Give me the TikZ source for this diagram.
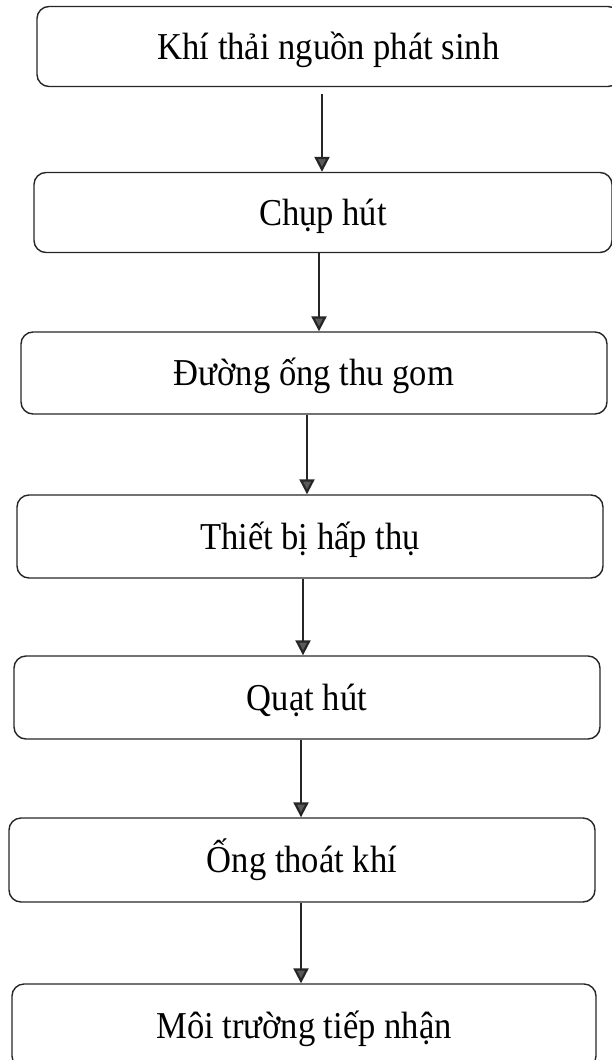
\documentclass[tikz,border=0pt]{standalone}
\usepackage{fontspec}
\setmainfont{Liberation Serif}[FakeStretch=0.91]
\usetikzlibrary{arrows.meta}
\usetikzlibrary{calc}

\tikzset{
	stage/.style = {draw = black!85, line width = 1.4pt, rounded corners = 12pt,
		inner sep = 0pt, text height = 33pt, text depth = 8pt,
		font = \fontsize{38}{45}\selectfont},
	flow/.style = {draw = black!85, line width = 2.2pt,
		-{Triangle[length = 15pt, width = 15pt, fill = black!65]}}
}

\begin{document}
\begin{tikzpicture}[x = 1pt, y = -1pt]
	\useasboundingbox (0,0) rectangle (612,1060);
	\node[stage, minimum width = 583pt, minimum height = 80pt] (source) at (328.5, 46.5) {Khí thải nguồn phát sinh};
	\node[stage, minimum width = 578pt, minimum height = 80pt] (hood) at (323, 212.5) {Chụp hút};
	\node[stage, minimum width = 586pt, minimum height = 82pt] (duct) at (314, 373) {Đường ống thu gom};
	\node[stage, minimum width = 586pt, minimum height = 83pt] (absorber) at (310, 536.5) {Thiết bị hấp thụ};
	\node[stage, minimum width = 586pt, minimum height = 83pt] (fan) at (307, 697.5) {Quạt hút};
	\node[stage, minimum width = 586pt, minimum height = 84pt] (stack) at (302, 860) {Ống thoát khí};
	\node[stage, minimum width = 584pt, minimum height = 84pt] (receiver) at (304, 1026) {Môi trường tiếp nhận};
	\draw[flow] ([xshift = -6.5pt, yshift = -7pt]source.south) -- ([xshift = -1pt]hood.north);
	\draw[flow] ([xshift = -4pt]hood.south) -- ([xshift = 5pt]duct.north);
	\draw[flow] ([xshift = -7pt]duct.south) -- ([xshift = -3pt]absorber.north);
	\draw[flow] ([xshift = -7pt]absorber.south) -- ([xshift = -4pt]fan.north);
	\draw[flow] ([xshift = -6pt]fan.south) -- ([xshift = -1pt]stack.north);
	\draw[flow] ([xshift = -1pt]stack.south) -- ([xshift = -3pt]receiver.north);
\end{tikzpicture}
\end{document}
